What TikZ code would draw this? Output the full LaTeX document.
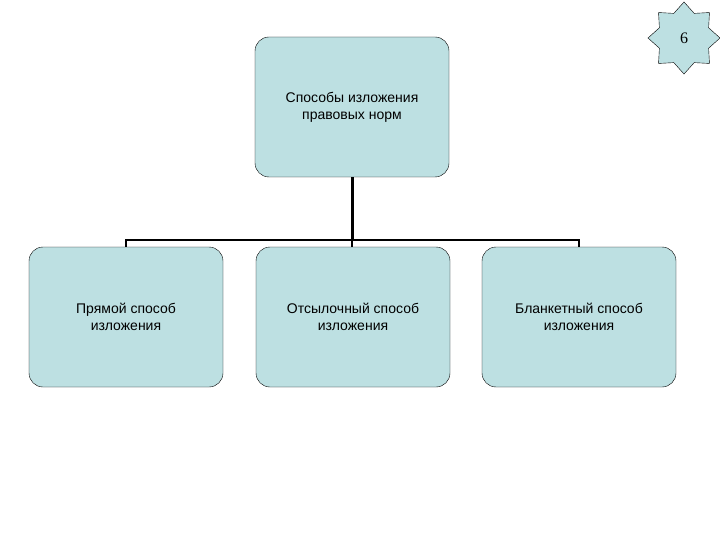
\documentclass[tikz,border=0pt]{standalone}
\usepackage{fontspec}
\setmainfont{Liberation Sans}
\usetikzlibrary{positioning,shapes.geometric}
\definecolor{boxfill}{HTML}{BDE0E2}
\tikzset{
  normbox/.style={draw, fill=boxfill, rounded corners=14pt, minimum width=194pt, minimum height=140pt, align=center, font=\fontsize{14}{17}\selectfont},
  tree/.style={line width=1.8pt}
}
\begin{document}
\begin{tikzpicture}[x=1pt,y=-1pt]
    \useasboundingbox (0,0) rectangle (720,540);
    % Верхний блок
    \node[normbox] (top) at (352,107) {Способы изложения\\правовых норм};
    % Нижние блоки
    \node[normbox] (direct) at (126,317) {Прямой способ\\изложения};
    \node[normbox] (ref) at (353,317) {Отсылочный способ\\изложения};
    \node[normbox] (blank) at (579,317) {Бланкетный способ\\изложения};
    % Соединения
    \coordinate (fork) at (352,240);
    \draw[line width=3pt] (top.south) -- (fork);
    \draw[tree] (direct.north) |- (fork) -| (blank.north);
    \draw[tree] (fork) -- (fork |- ref.north);
    % Номер слайда
    \node[star, star points=8, star point ratio=1.35, draw, fill=boxfill, minimum size=72pt, inner sep=0pt, font=\fontsize{16}{16}\selectfont\rmfamily] (num) at (684,38) {\fontspec{Liberation Serif}6};
\end{tikzpicture}
\end{document}
